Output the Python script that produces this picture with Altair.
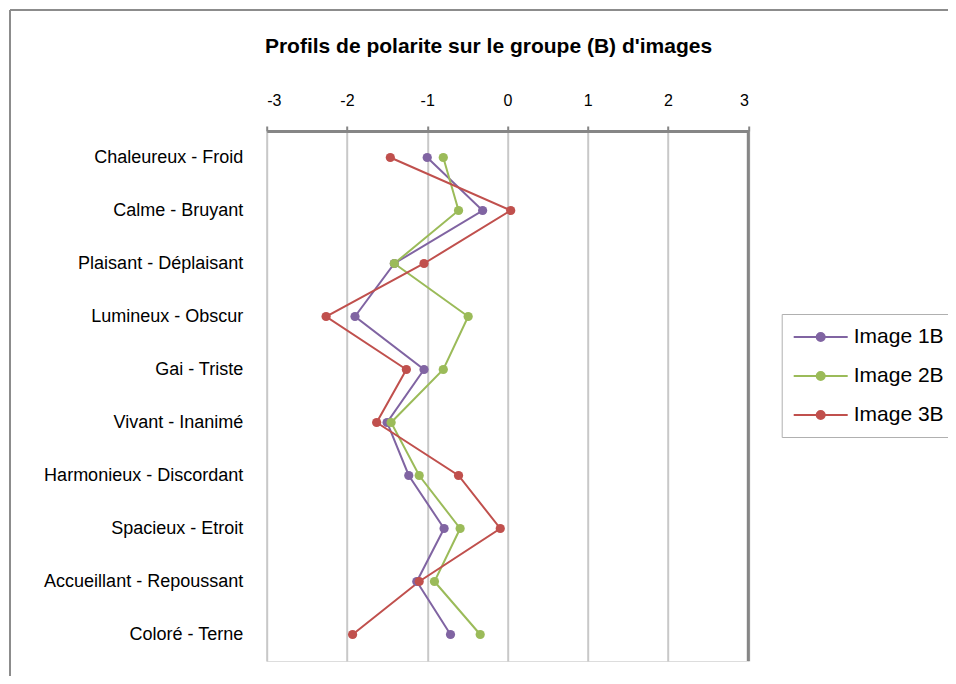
import altair as alt
import pandas as pd

categories = ["Chaleureux - Froid", "Calme - Bruyant", "Plaisant - Déplaisant",
              "Lumineux - Obscur", "Gai - Triste", "Vivant - Inanimé",
              "Harmonieux - Discordant", "Spacieux - Etroit",
              "Accueillant - Repoussant", "Coloré - Terne"]
series_names = ["Image 1B", "Image 2B", "Image 3B"]
image1 = [-1.0, -0.31, -1.41, -1.9, -1.04, -1.5, -1.23, -0.79, -1.13, -0.71]
image2 = [-0.8, -0.61, -1.41, -0.49, -0.8, -1.45, -1.1, -0.59, -0.91, -0.34]
image3 = [-1.46, 0.04, -1.04, -2.26, -1.26, -1.63, -0.61, -0.09, -1.1, -1.93]
x_ticks = [-3, -2, -1, 0, 1, 2, 3]
colors = ["#8064A2", "#9BBB59", "#C0504D"]

rows = []
for name, vals in zip(series_names, [image1, image2, image3]):
    for i, (c, v) in enumerate(zip(categories, vals)):
        rows.append({"serie": name, "cat": c, "idx": i, "val": v})
df = pd.DataFrame(rows)

W, H = 481.6, 530
PL, PT = 258.7, 123

legend = alt.Legend(
    title=None, orient="none", legendX=515, legendY=183,
    symbolType="M-2.7,0L-0.4,0M0.4,0L2.7,0M-0.4,0A0.4,0.4 0 1,0 0.4,0A0.4,0.4 0 1,0 -0.4,0",
    symbolSize=400, symbolOffset=16, symbolStrokeWidth=2, symbolOpacity=1,
    labelFontSize=21, labelFont="Liberation Sans", labelColor="#000000",
    labelOffset=22, rowPadding=18, padding=12,
    strokeColor="#b0b0b0", fillColor="white",
)

color = alt.Color("serie:N", scale=alt.Scale(domain=series_names, range=colors), legend=legend)

xenc = alt.X("val:Q", scale=alt.Scale(domain=[-3, 3], nice=False),
             axis=alt.Axis(orient="top", values=x_ticks, title=None,
                           labelExpr="'' + datum.value",
                           labelFontSize=16, labelFont="Liberation Sans", labelColor="#000000",
                           domainColor="#868686", domainWidth=3, tickColor="#868686",
                           tickWidth=2, tickSize=5, labelPadding=18,
                           gridColor="#c8c8c8", gridWidth=2))
yenc = alt.Y("cat:N", sort=categories,
             scale=alt.Scale(type="band", domain=categories, paddingInner=0, paddingOuter=0),
             axis=alt.Axis(title=None, tickBand="extent", ticks=False, domain=False,
                           labelFontSize=18, labelFont="Liberation Sans", labelColor="#000000",
                           labelLimit=400, labelPadding=24, gridColor="#c8c8c8", gridWidth=2))

lines = alt.Chart(df).mark_line(
    strokeWidth=2,
    point=alt.OverlayMarkDef(filled=True, size=85, opacity=1),
).encode(x=xenc, y=yenc, color=color, order="idx:Q")

right_edge = alt.Chart(pd.DataFrame({"v": [3]})).mark_rule(color="#868686", strokeWidth=3).encode(
    x=alt.X("v:Q"))

frame_top = alt.Chart(pd.DataFrame({"a": [0]})).mark_rule(color="#8c8c8c", strokeWidth=2).encode(
    x=alt.value(-256.7), x2=alt.value(700), y=alt.value(-121))
frame_left = alt.Chart(pd.DataFrame({"a": [0]})).mark_rule(color="#8c8c8c", strokeWidth=2).encode(
    x=alt.value(-256.7), y=alt.value(-121), y2=alt.value(560))

chart = alt.layer(frame_top, frame_left, right_edge, lines).properties(
    width=W, height=H,
    title=alt.Title("Profils de polarite sur le groupe (B) d'images", fontSize=21,
                    font="Liberation Sans", fontWeight="bold", color="#000000",
                    anchor="middle", dx=-19, offset=0, dy=48),
    autosize=alt.AutoSizeParams(type="none"),
    padding={"left": PL, "top": PT, "right": 940 - PL - W, "bottom": 15},
).configure_view(stroke=None).configure(background="white")

chart.save("out.html", embed_options={"renderer": "svg", "actions": False})
